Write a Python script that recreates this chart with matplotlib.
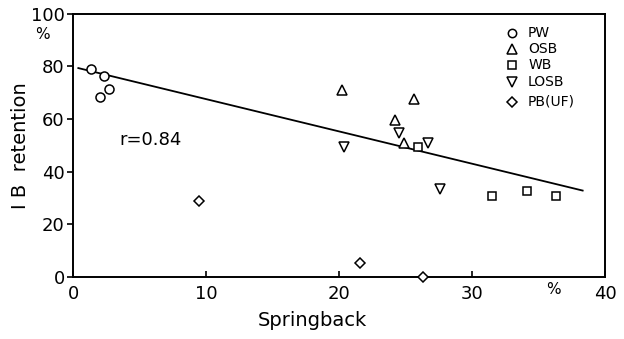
import matplotlib
matplotlib.use("Agg")
import matplotlib.pyplot as plt

# =========================================================
# DATA
# =========================================================

pw_x = [1.35, 2.35, 2.0, 2.7]
pw_y = [79.0, 76.4, 68.4, 71.2]

osb_x = [20.2, 25.6, 24.2, 24.9]
osb_y = [71.0, 67.4, 59.6, 50.7]

wb_x = [25.9, 31.5, 34.1, 36.3]
wb_y = [49.5, 30.7, 32.6, 30.7]

losb_x = [20.4, 24.5, 26.7, 27.6]
losb_y = [49.5, 54.5, 50.7, 33.4]

pb_x = [9.5, 21.6, 26.3]
pb_y = [29.0, 5.2, 0.0]

# regression line end points
line_x = [0.4, 38.3]
line_y = [79.3, 32.8]

x_ticks = [0, 10, 20, 30, 40]
y_ticks = [0, 20, 40, 60, 80, 100]

series = [
    ("PW", pw_x, pw_y, "o"),
    ("OSB", osb_x, osb_y, "^"),
    ("WB", wb_x, wb_y, "s"),
    ("LOSB", losb_x, losb_y, "v"),
    ("PB(UF)", pb_x, pb_y, "D"),
]

# =========================================================
# FIGURE
# =========================================================

fig = plt.figure(figsize=(6.24, 3.39), dpi=100)
ax = fig.add_axes([0.117, 0.183, 0.853, 0.777])

ax.plot(line_x, line_y, color="black", lw=1.3)

marker_sizes = {"o": 6.5, "^": 7, "s": 6, "v": 7, "D": 5.5}
for name, xs, ys, m in series:
    ax.plot(xs, ys, linestyle="none", marker=m, ms=marker_sizes[m],
            mfc="white", mec="black", mew=1.1, clip_on=False, zorder=3)

# legend drawn by hand (uneven row spacing in original)
leg_rows = [92.5, 86.5, 80.5, 74.0, 66.5]
for (name, xs, ys, m), ry in zip(series, leg_rows):
    ax.plot([33.0], [ry], linestyle="none", marker=m, ms=marker_sizes[m] - 0.5,
            mfc="white", mec="black", mew=1.1)
    ax.text(34.2, ry, name, fontsize=10, va="center", ha="left")

ax.text(3.5, 52, "r=0.84", fontsize=13, va="center", ha="left")

# unit labels
ax.text(-2.3, 92, "%", fontsize=11, ha="center", va="center", clip_on=False)
ax.text(36.1, -4.8, "%", fontsize=11, ha="center", va="center", clip_on=False)

ax.set_xlim(0, 40)
ax.set_ylim(0, 100)
ax.set_xticks(x_ticks)
ax.set_yticks(y_ticks)
ax.tick_params(axis="x", direction="in", length=4, width=1.2, labelsize=13, pad=6)
ax.tick_params(axis="y", direction="out", length=4, width=1.2, labelsize=13, pad=2)

for s in ax.spines.values():
    s.set_linewidth(1.4)

ax.set_xlabel("Springback", fontsize=14)
ax.xaxis.set_label_coords(0.45, -0.13)
ax.set_ylabel("I B  retention", fontsize=14)
ax.yaxis.set_label_coords(-0.08, 0.5)

fig.savefig("out.png", dpi=100)
